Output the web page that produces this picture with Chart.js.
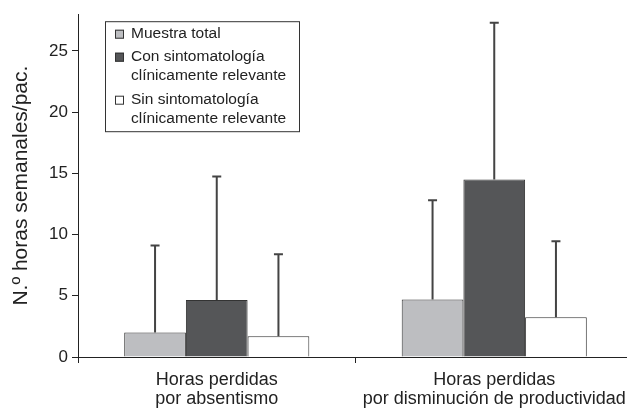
<!DOCTYPE html>
<html>
<head>
<meta charset="utf-8">
<script src="https://cdn.jsdelivr.net/npm/chart.js@4"></script>
<style>
  body { margin: 0; background: #fff; overflow: hidden; }
</style>
</head>
<body>
<canvas id="horasChart" width="633" height="410"></canvas>
<script>
    // categorias y series
    const categories = [
        ['Horas perdidas', 'por absentismo'],
        ['Horas perdidas', 'por disminución de productividad']
    ];
    const seriesNames = [
        ['Muestra total'],
        ['Con sintomatología', 'clínicamente relevante'],
        ['Sin sintomatología', 'clínicamente relevante']
    ];
    // medias (altura de barra) y desviacion (barra de error)
    const totalMean = [2.0, 4.7];
    const totalSd = [7.1, 8.1];
    const conMean = [4.65, 14.5];
    const conSd = [10.1, 12.8];
    const sinMean = [1.7, 3.25];
    const sinSd = [6.7, 6.2];
    const yTicks = [0, 5, 10, 15, 20, 25];

    const fontFamily = "'Liberation Sans', Arial, sans-serif";
    const ink = '#222';

    const errorBars = {
        id: 'errorBars',
        afterDatasetsDraw(chart) {
            const ctx = chart.ctx;
            const y = chart.scales.y;
            ctx.save();
            ctx.strokeStyle = '#444';
            ctx.lineWidth = 2;
            chart.data.datasets.forEach((ds, i) => {
                chart.getDatasetMeta(i).data.forEach((bar, j) => {
                    const top = y.getPixelForValue(ds.data[j] + ds.sd[j]);
                    ctx.beginPath();
                    ctx.moveTo(bar.x, bar.y);
                    ctx.lineTo(bar.x, top);
                    ctx.moveTo(bar.x - 4.5, top);
                    ctx.lineTo(bar.x + 4.5, top);
                    ctx.stroke();
                });
            });
            ctx.restore();
        }
    };

    const boxLegend = {
        id: 'boxLegend',
        afterDraw(chart) {
            const ctx = chart.ctx;
            const area = chart.chartArea;
            const left = area.left + 27, top = area.top + 7;
            ctx.save();
            ctx.strokeStyle = '#333';
            ctx.lineWidth = 1;
            ctx.strokeRect(left + 0.5, top + 0.5, 194, 110);
            ctx.font = '15.5px ' + fontFamily;
            ctx.textBaseline = 'middle';
            ctx.fillStyle = ink;
            const rowY = [13, 36, 79];
            chart.data.datasets.forEach((ds, i) => {
                const cy = top + rowY[i];
                ctx.fillStyle = ds.backgroundColor;
                ctx.fillRect(left + 10, cy - 4.5, 9, 9);
                ctx.strokeStyle = '#333';
                ctx.strokeRect(left + 10.5, cy - 4, 8, 8);
                ctx.fillStyle = ink;
                seriesNames[i].forEach((line, k) => {
                    ctx.fillText(line, left + 26, cy + k * 19);
                });
            });
            ctx.restore();
        }
    };

    const ctx = document.getElementById('horasChart').getContext('2d');
    const horasChart = new Chart(ctx, {
        type: 'bar',
        data: {
            labels: categories,
            datasets: [
                { label: seriesNames[0].join(' '), data: totalMean, sd: totalSd, backgroundColor: '#bdbec1' },
                { label: seriesNames[1].join(' '), data: conMean, sd: conSd, backgroundColor: '#555658' },
                { label: seriesNames[2].join(' '), data: sinMean, sd: sinSd, backgroundColor: '#ffffff' }
            ].map(d => Object.assign(d, {
                borderColor: '#333',
                borderWidth: 1,
                barPercentage: 1,
                categoryPercentage: 0.667
            }))
        },
        options: {
            responsive: false,
            animation: false,
            layout: { padding: { top: 14, right: 0, left: 0, bottom: 0 } },
            plugins: {
                legend: { display: false },
                tooltip: { enabled: false }
            },
            scales: {
                x: {
                    grid: { offset: true, drawOnChartArea: false, drawTicks: true, tickLength: 6, color: ink },
                    border: { display: true, color: ink, width: 1 },
                    ticks: {
                        color: ink,
                        padding: 7,
                        maxRotation: 0,
                        font: { family: fontFamily, size: 18, lineHeight: 1.08 }
                    },
                    afterFit(scale) { scale.height = 53; }
                },
                y: {
                    min: 0,
                    max: 28,
                    grid: { drawOnChartArea: false, drawTicks: true, tickLength: 6, color: ink },
                    border: { display: true, color: ink, width: 1 },
                    ticks: {
                        stepSize: 5,
                        color: ink,
                        padding: 4,
                        font: { family: fontFamily, size: 17 }
                    },
                    afterBuildTicks(scale) {
                        scale.ticks = yTicks.map(v => ({ value: v }));
                    },
                    title: {
                        display: true,
                        text: 'N.º horas semanales/pac.',
                        color: ink,
                        padding: { top: 9, bottom: 0 },
                        font: { family: fontFamily, size: 21 }
                    },
                    afterFit(scale) { scale.width = 78; }
                }
            }
        },
        plugins: [errorBars, boxLegend]
    });
</script>
</body>
</html>
